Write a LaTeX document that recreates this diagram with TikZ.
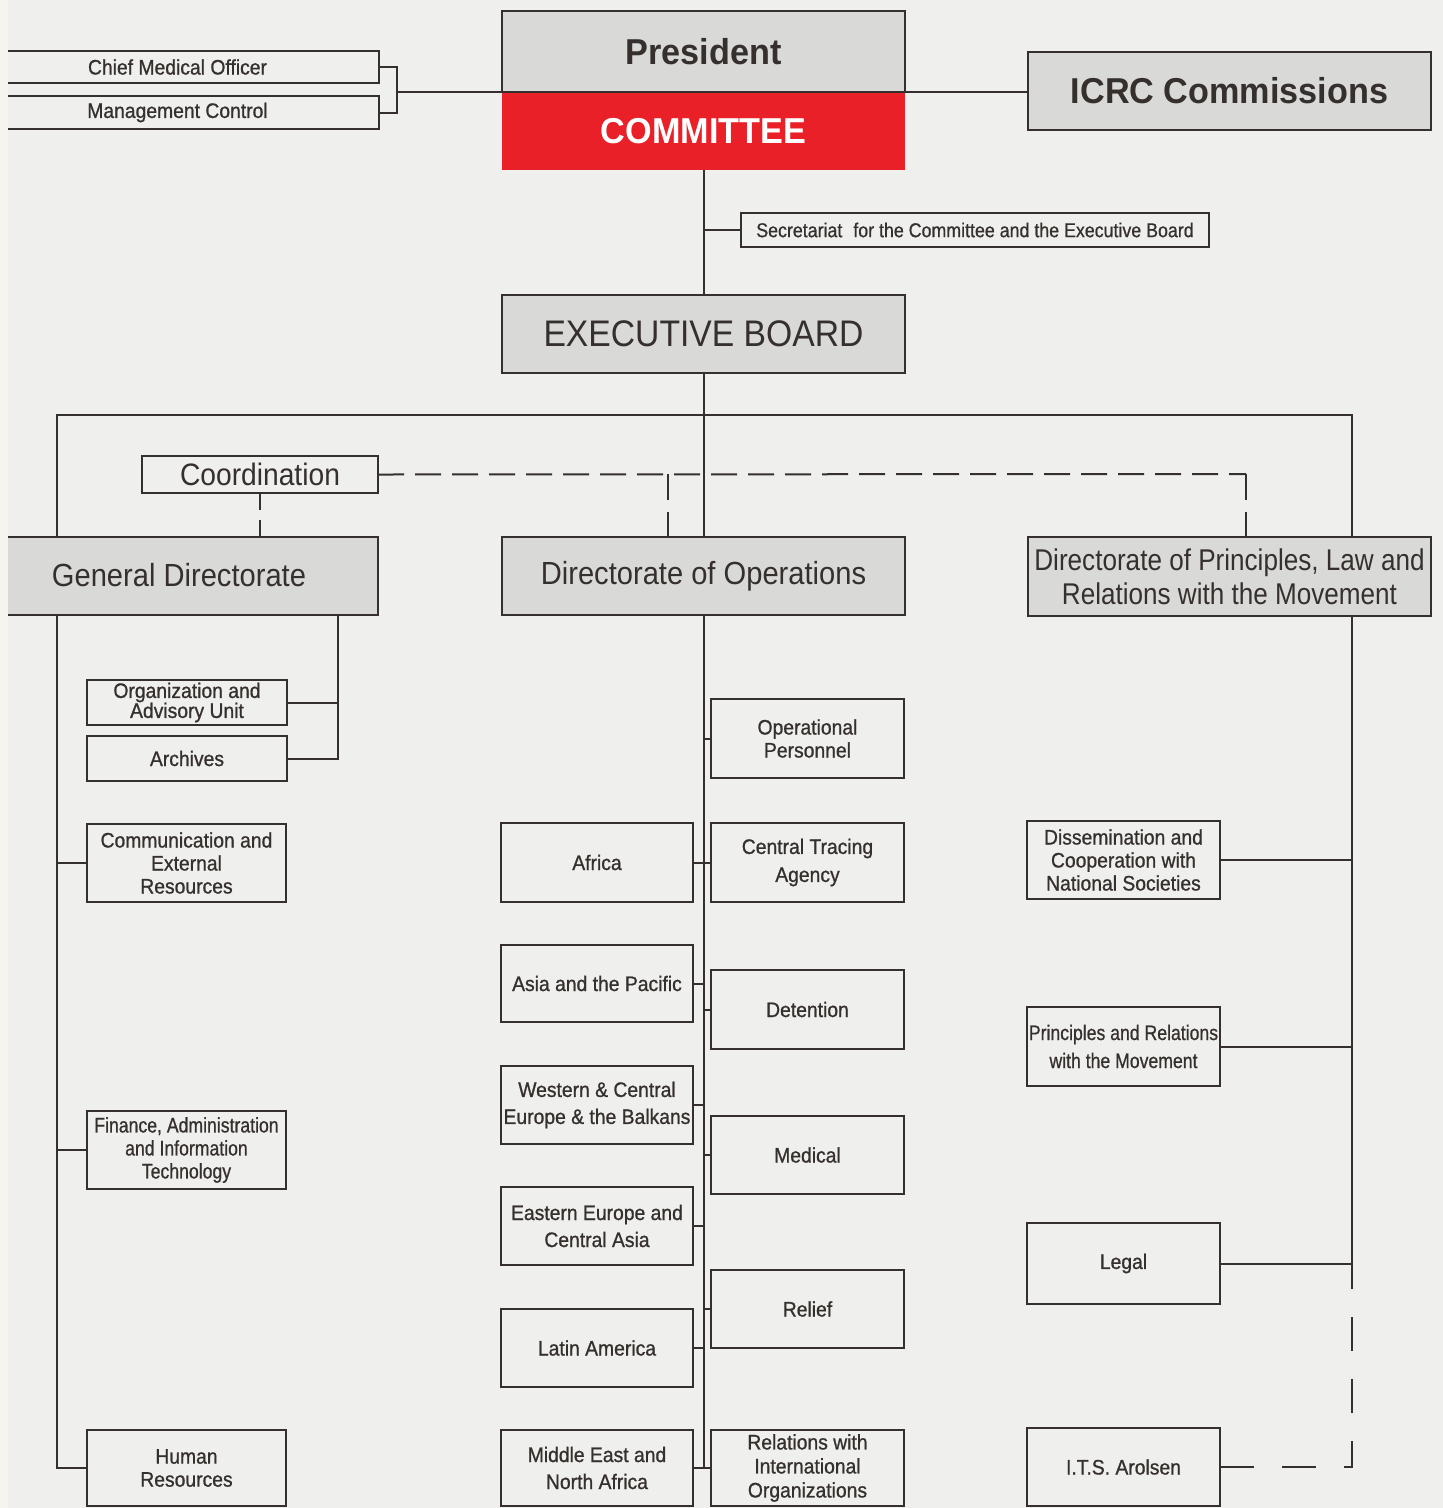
\documentclass[tikz,border=0pt]{standalone}
\usepackage{fontspec}
\setmainfont{Liberation Sans}
\newfontfamily\fsm[FakeStretch=0.92,FakeBold=0.9]{Liberation Sans}
\newfontfamily\fcn[FakeStretch=0.84,FakeBold=0.7]{Liberation Sans}
\newfontfamily\fsec[FakeStretch=0.89,FakeBold=0.7]{Liberation Sans}
\newfontfamily\fhd[FakeStretch=0.91]{Liberation Sans}
\newfontfamily\fdp[FakeStretch=0.87]{Liberation Sans}
\newfontfamily\fbd[FakeStretch=0.95]{Liberation Sans}
\definecolor{ink}{HTML}{35302D}
\definecolor{bg}{HTML}{EFEFEE}
\definecolor{edge}{HTML}{F5F4EF}
\definecolor{boxgray}{HTML}{D9D9D8}
\definecolor{icrcred}{HTML}{EA2029}
\newcommand\obox[7][unitbox]{%
  \pgfmathsetmacro\obw{#5-#3}\pgfmathsetmacro\obh{#6-#4}%
  \pgfmathsetmacro\obx{(#3+#5)/2}\pgfmathsetmacro\oby{(#4+#6)/2}%
  \node[#1,minimum width=\obw pt,minimum height=\obh pt] (#2) at (\obx,\oby) {#7};}
\tikzset{
  unitbox/.style={draw=ink,line width=2.4pt,inner sep=0pt,outer sep=0pt,align=center,text=ink,
    font=\fsm\fontsize{21}{23}\selectfont},
  headbox/.style={unitbox,fill=boxgray,line width=2.8pt,font=\fhd\fontsize{32}{34}\selectfont},
  redbox/.style={unitbox,draw=none,fill=icrcred,text=white,font=\fbd\bfseries\fontsize{36}{40}\selectfont},
  conn/.style={draw=ink,line width=2pt},
  dsh/.style={conn,dash pattern=on 26pt off 11pt},
  vdsh/.style={conn,dash pattern=on 26pt off 12pt},
  cdsh/.style={conn,dash pattern=on 17pt off 10pt},
  rdsh/.style={conn,dash pattern=on 34pt off 28pt},
}
\begin{document}
\begin{tikzpicture}[x=1pt,y=-1pt]
\useasboundingbox (0,0) rectangle (1443,1508);
\fill[bg] (0,0) rectangle (1443,1508);
\clip (0,0) rectangle (1443,1508);

% top level
\obox[redbox]{comm}{502}{92}{905}{170}{COMMITTEE}
\obox[headbox,font=\fbd\bfseries\fontsize{36}{40}\selectfont]{pres}{502}{11}{905}{92}{President}
\obox[headbox,font=\fbd\bfseries\fontsize{36}{40}\selectfont]{icrc}{1028}{52}{1431}{130}{ICRC Commissions}
\obox{cmo}{-24}{51}{379}{83}{Chief Medical Officer}
\obox{mc}{-24}{96}{379}{129}{Management Control}
\obox[unitbox,font=\fsec\fontsize{20}{22}\selectfont]{sec}{741}{213}{1209}{247}{Secretariat\hspace{11pt}for the Committee and the Executive Board}
\obox[headbox,font=\fhd\fontsize{37}{40}\selectfont]{exec}{502}{295}{905}{373}{EXECUTIVE BOARD}
\obox[unitbox,font=\fhd\fontsize{31}{34}\selectfont]{coord}{142}{456}{378}{493}{Coordination}

% directorates
\obox[headbox]{gd}{-20}{537}{378}{615}{\raisebox{3pt}{General Directorate}}
\obox[headbox]{dop}{502}{537}{905}{615}{Directorate of Operations}
\obox[headbox,font=\fdp\fontsize{30}{34}\selectfont]{dp}{1028}{537}{1431}{616}{Directorate of Principles, Law and\\Relations with the Movement}

% General Directorate units
\obox[unitbox,font=\fsm\fontsize{21}{20}\selectfont]{org}{87}{680}{287}{725}{Organization and\\Advisory Unit}
\obox{arch}{87}{736}{287}{781}{Archives}
\obox{cer}{87}{824}{286}{902}{Communication and\\External\\Resources}
\obox[unitbox,font=\fcn\fontsize{21}{23}\selectfont]{fin}{87}{1111}{286}{1189}{Finance, Administration\\and Information\\Technology}
\obox{hr}{87}{1430}{286}{1506}{Human\\Resources}

% Operations, left column
\obox{afr}{501}{823}{693}{902}{Africa}
\obox{asia}{501}{945}{693}{1022}{Asia and the Pacific}
\obox[unitbox,font=\fsm\fontsize{21}{27}\selectfont]{wce}{501}{1066}{693}{1144}{Western \& Central\\Europe \& the Balkans}
\obox[unitbox,font=\fsm\fontsize{21}{27}\selectfont]{eeca}{501}{1187}{693}{1265}{Eastern Europe and\\Central Asia}
\obox{lat}{501}{1309}{693}{1387}{Latin America}
\obox[unitbox,font=\fsm\fontsize{21}{27}\selectfont]{mena}{501}{1430}{693}{1506}{Middle East and\\North Africa}

% Operations, right column
\obox{opp}{711}{699}{904}{778}{Operational\\Personnel}
\obox[unitbox,font=\fsm\fontsize{21}{28}\selectfont]{cta}{711}{823}{904}{902}{Central Tracing\\Agency}
\obox{det}{711}{970}{904}{1049}{Detention}
\obox{med}{711}{1116}{904}{1194}{Medical}
\obox{rel}{711}{1270}{904}{1348}{Relief}
\obox[unitbox,font=\fsm\fontsize{21}{24}\selectfont]{rio}{711}{1430}{904}{1506}{Relations with\\International\\Organizations}

% Principles directorate units
\obox{dis}{1027}{821}{1220}{899}{Dissemination and\\Cooperation with\\National Societies}
\obox[unitbox,font=\fcn\fontsize{21}{28}\selectfont]{prm}{1027}{1007}{1220}{1086}{Principles and Relations\\with the Movement}
\obox{leg}{1027}{1223}{1220}{1304}{Legal}
\obox{its}{1027}{1428}{1220}{1506}{I.T.S. Arolsen}

% connectors: top
\coordinate (lb) at (397,92);
\draw[conn] (cmo.east) -| (lb);
\draw[conn] (mc.east) -| (lb);
\draw[conn] (lb) -- (pres.south west);
\draw[conn] (pres.south east) -- (pres.south east -| icrc.west);
\draw[conn] (comm.south) -- (exec.north);
\draw[conn] (sec.west) -- (sec.west -| comm.south);
\draw[conn] (exec.south) -- (dop.north);
\coordinate (busL) at (57,415);
\coordinate (busR) at (1352,415);
\draw[conn] (busL |- gd.north) -- (busL) -- (busR) -- (busR |- dp.north);

% coordination dashed lines
\coordinate (dM) at (668,474);
\coordinate (dR) at (1246,474);
\draw[dsh] (coord.east) -- (dR);
\draw[vdsh] (dR) -- (dR |- dp.north);
\draw[vdsh] (dM) -- (dM |- dop.north);
\draw[cdsh] (coord.south) -- (coord.south |- gd.north);

% General Directorate connectors
\draw[conn] (busL |- gd.south) -- (busL |- hr.west) -- (hr.west);
\draw[conn] (cer.west) -- (cer.west -| busL);
\draw[conn] (fin.west) -- (fin.west -| busL);
\coordinate (gdR) at (338,615);
\draw[conn] (gdR) |- (arch.east);
\draw[conn] (org.east) -- (org.east -| gdR);

% Operations connectors
\draw[conn] (dop.south) -- (dop.south |- mena.east);
\foreach \n in {afr,asia,wce,eeca,lat,mena}
  \draw[conn] (\n.east) -- (\n.east -| dop.south);
\foreach \n in {opp,cta,det,med,rel,rio}
  \draw[conn] (\n.west) -- (\n.west -| dop.south);

% Principles connectors
\coordinate (pR) at (1352,616);
\coordinate (dstart) at (1352,1285);
\draw[conn] (pR) -- (dstart);
\foreach \n in {dis,prm,leg}
  \draw[conn] (\n.east) -- (\n.east -| pR);
\draw[rdsh] (its.east) -| (dstart);

% pale strip at the left edge of the sheet
\fill[edge] (0,0) rectangle (8,1508);
\end{tikzpicture}
\end{document}
